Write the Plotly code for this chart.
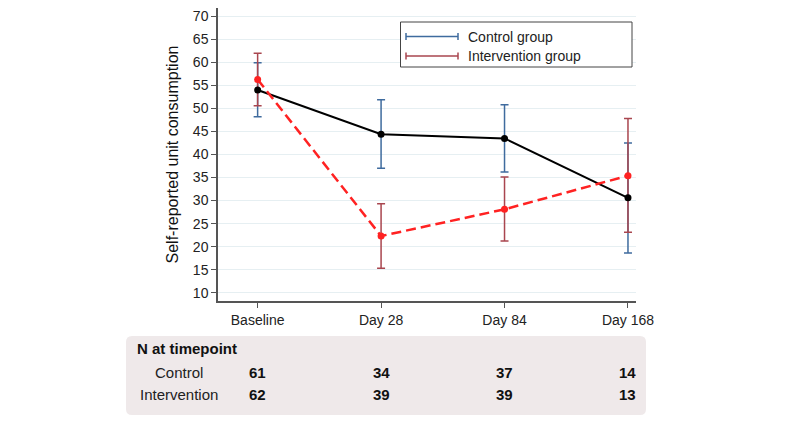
import plotly.graph_objects as go

# ---- data ----
timepoints = ["Baseline", "Day 28", "Day 84", "Day 168"]
control_mean = [54.0, 44.4, 43.5, 30.6]
control_upper = [59.9, 51.9, 50.8, 42.5]
control_lower = [48.2, 37.0, 36.2, 18.6]
interv_mean = [56.3, 22.3, 28.1, 35.4]
interv_upper = [62.0, 29.3, 35.1, 47.8]
interv_lower = [50.6, 15.3, 21.2, 23.1]
n_control = [61, 34, 37, 14]
n_interv = [62, 39, 39, 13]
y_ticks = list(range(10, 75, 5))

# page has an 8px body margin; size the figure to fit the 800x425 window
OFF = 8
W, H = 800 - OFF, 425 - OFF
L, T = 218 - OFF, 8 - OFF
PW, PH = 418, 293
R, B = W - L - PW, H - T - PH


def px(x):
    return (x - OFF - L) / PW


def py(y):
    return (T + PH - (y - OFF)) / PH


FONT = "Liberation Sans, Arial, sans-serif"
BLUE = "#3f6b9e"
DRED = "#a9464f"

xi = list(range(len(timepoints)))

fig = go.Figure()


def err_trace(mean, up, lo, color):
    return go.Scatter(
        x=xi, y=mean, mode="markers",
        marker=dict(size=1, opacity=0),
        error_y=dict(type="data", symmetric=False,
                     array=[u - m for u, m in zip(up, mean)],
                     arrayminus=[m - l for m, l in zip(mean, lo)],
                     color=color, thickness=1.5, width=4),
        showlegend=False, hoverinfo="skip")


fig.add_trace(err_trace(control_mean, control_upper, control_lower, BLUE))
fig.add_trace(err_trace(interv_mean, interv_upper, interv_lower, DRED))

fig.add_trace(go.Scatter(x=xi, y=control_mean, mode="lines+markers",
                         line=dict(color="black", width=2),
                         marker=dict(color="black", size=7),
                         showlegend=False))
fig.add_trace(go.Scatter(x=xi, y=interv_mean, mode="lines+markers",
                         line=dict(color="#ff2222", width=2.5, dash="10px,5px"),
                         marker=dict(color="#ff2222", size=7),
                         showlegend=False))

fig.update_layout(
    width=W, height=H,
    margin=dict(l=L, r=R, t=T, b=B, autoexpand=False),
    paper_bgcolor="white", plot_bgcolor="white",
    font=dict(family=FONT, size=14, color="#222"),
    showlegend=False,
)
fig.update_xaxes(
    range=[-0.321, 3.065], tickvals=xi, ticktext=timepoints,
    showline=True, linecolor="#555", linewidth=1.5,
    ticks="outside", ticklen=5, tickcolor="#555", tickwidth=1,
    showgrid=False, zeroline=False, automargin=False,
    tickfont=dict(size=14, color="#222"),
)
fig.update_yaxes(
    range=[8.2, 71.8], tickvals=y_ticks,
    showline=True, linecolor="#555", linewidth=1.5,
    ticks="outside", ticklen=5, tickcolor="#555", tickwidth=1,
    showgrid=True, gridcolor="#e6eff2", gridwidth=1, zeroline=False,
    automargin=False,
    tickfont=dict(size=14, color="#222"),
    title=dict(text="Self-reported unit consumption", standoff=10,
               font=dict(size=16, color="#111")),
)

shapes = []
ann = []

# legend box
shapes.append(dict(type="rect", xref="paper", yref="paper",
                   x0=px(400.5), x1=px(632), y0=py(67), y1=py(22),
                   line=dict(color="#444", width=1), fillcolor="white"))
for yy, col, label in [(36.5, BLUE, "Control group"), (56, DRED, "Intervention group")]:
    shapes.append(dict(type="line", xref="paper", yref="paper",
                       x0=px(406), x1=px(458), y0=py(yy), y1=py(yy),
                       line=dict(color=col, width=1.5)))
    for xx in (406, 458):
        shapes.append(dict(type="line", xref="paper", yref="paper",
                           x0=px(xx), x1=px(xx), y0=py(yy - 3.5), y1=py(yy + 3.5),
                           line=dict(color=col, width=1.5)))
    ann.append(dict(xref="paper", yref="paper", x=px(466), y=py(yy),
                    text=label, showarrow=False, xanchor="left", yanchor="middle",
                    font=dict(size=14, color="#222")))

# table box with rounded corners
x0, x1, y0, y1 = 126, 646, 336, 415
r = 6
path = (f"M {px(x0 + r)} {py(y0)} L {px(x1 - r)} {py(y0)} "
        f"Q {px(x1)} {py(y0)} {px(x1)} {py(y0 + r)} L {px(x1)} {py(y1 - r)} "
        f"Q {px(x1)} {py(y1)} {px(x1 - r)} {py(y1)} L {px(x0 + r)} {py(y1)} "
        f"Q {px(x0)} {py(y1)} {px(x0)} {py(y1 - r)} L {px(x0)} {py(y0 + r)} "
        f"Q {px(x0)} {py(y0)} {px(x0 + r)} {py(y0)} Z")
shapes.append(dict(type="path", xref="paper", yref="paper", path=path,
                   fillcolor="#efe9ea", line=dict(width=0), layer="below"))

TF = 15
ann.append(dict(xref="paper", yref="paper", x=px(135), y=py(348.5),
                text="<b>N at timepoint</b>", showarrow=False,
                xanchor="left", yanchor="middle", font=dict(size=TF, color="#111")))
ann.append(dict(xref="paper", yref="paper", x=px(178.5), y=py(372),
                text="Control", showarrow=False, xanchor="center", yanchor="middle",
                font=dict(size=TF, color="#222")))
ann.append(dict(xref="paper", yref="paper", x=px(178.5), y=py(394),
                text="Intervention", showarrow=False, xanchor="center", yanchor="middle",
                font=dict(size=TF, color="#222")))
for i, (nc, ni) in enumerate(zip(n_control, n_interv)):
    ann.append(dict(xref="x", yref="paper", x=i, y=py(372), text=f"<b>{nc}</b>",
                    showarrow=False, xanchor="center", yanchor="middle",
                    font=dict(size=TF, color="#111")))
    ann.append(dict(xref="x", yref="paper", x=i, y=py(394), text=f"<b>{ni}</b>",
                    showarrow=False, xanchor="center", yanchor="middle",
                    font=dict(size=TF, color="#111")))

fig.update_layout(shapes=shapes, annotations=ann)
fig.write_html("out.html")
